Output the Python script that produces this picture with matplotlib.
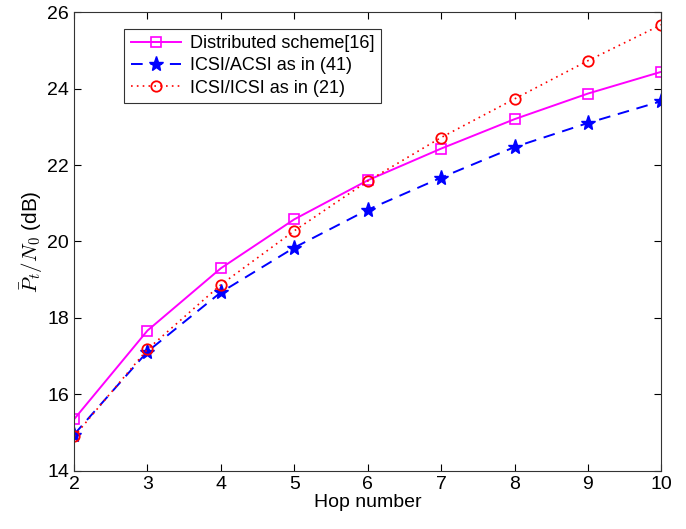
import matplotlib
matplotlib.use("Agg")
import matplotlib.pyplot as plt

plt.rcParams['font.family'] = ['Liberation Sans', 'DejaVu Sans']
plt.rcParams['mathtext.fontset'] = 'cm'

hops = [2, 3, 4, 5, 6, 7, 8, 9, 10]
distributed = [15.35, 17.67, 19.30, 20.58, 21.60, 22.43, 23.20, 23.87, 24.44]
icsi_acsi = [14.95, 17.12, 18.67, 19.84, 20.83, 21.67, 22.47, 23.10, 23.67]
icsi_icsi = [14.90, 17.18, 18.87, 20.28, 21.58, 22.72, 23.73, 24.73, 25.67]

fig = plt.figure(figsize=(6.86, 5.29), dpi=100)
ax = fig.add_axes([0.108, 0.110, 0.856, 0.867])

ax.plot(hops, distributed, color='#ff00ff', linestyle='-', linewidth=1.4,
        marker='s', markersize=6.5, markerfacecolor='none', markeredgewidth=1.2,
        label='Distributed scheme[16]')
ax.plot(hops, icsi_acsi, color='#0000ff', linestyle=(0, (6, 4)), linewidth=1.4,
        marker='*', markersize=11, markerfacecolor='#0000ff',
        label='ICSI/ACSI as in (41)')
ax.plot(hops, icsi_icsi, color='#ff0000', linestyle=(0, (1, 2.5)), linewidth=1.2,
        marker='o', markersize=7.5, markerfacecolor='none', markeredgewidth=1.3,
        label='ICSI/ICSI as in (21)')

ax.set_xlim(2, 10)
ax.set_ylim(14, 26)
ax.set_xticks(hops)
ax.set_yticks([14, 16, 18, 20, 22, 24, 26])
ax.tick_params(direction='in', top=True, right=True, labelsize=14, length=5)
for s in ax.spines.values():
    s.set_color('#333333')

ax.set_xlabel('Hop number', fontsize=14, labelpad=1)
ax.set_ylabel(r'$\bar{P}_t/N_0$ (dB)', fontsize=15, labelpad=2)

leg = ax.legend(loc='upper left', bbox_to_anchor=(0.07, 0.984), fontsize=13,
                frameon=True, fancybox=False, edgecolor='black',
                handlelength=2.8, borderpad=0.35, labelspacing=0.3,
                handletextpad=0.5)
leg.get_frame().set_linewidth(0.8)

fig.savefig('out.png', dpi=100)
